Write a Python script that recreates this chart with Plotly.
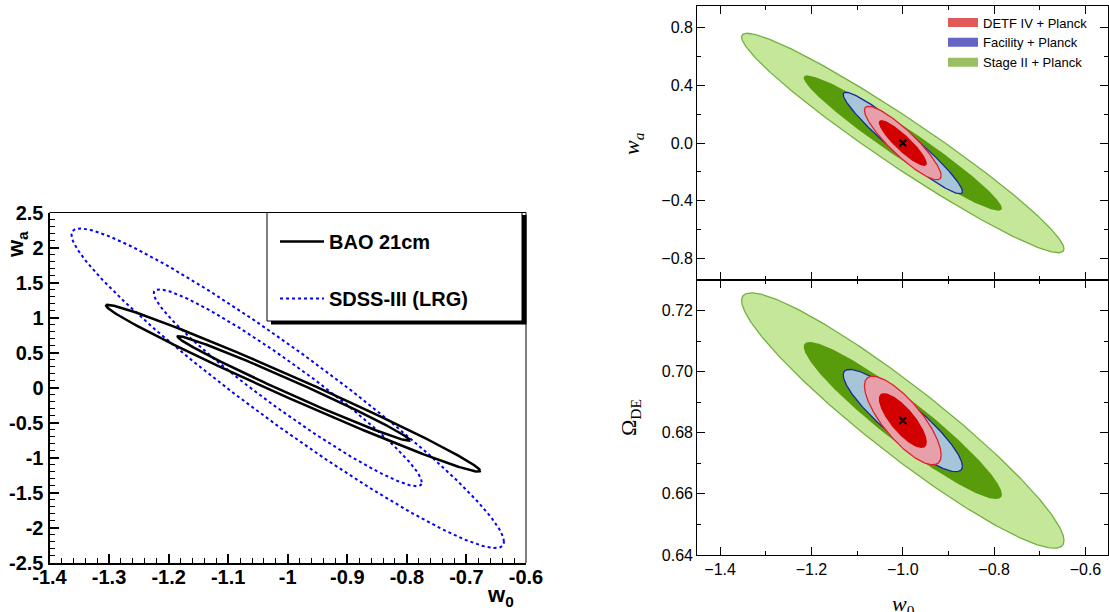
import numpy as np
import plotly.graph_objects as go

W, H = 1109, 612

# ---------------- Left panel: BAO 21cm vs SDSS-III (LRG) -----------------
# contour ellipses: centre (w0, wa), half-extent in w0, half-extent in wa, correlation
bao_cw0 = [-0.991, -0.990]
bao_cwa = [-0.007, -0.010]
bao_hw0 = [0.314, 0.195]
bao_hwa = [1.19, 0.747]
bao_rho = [-0.99, -0.99]

sdss_cw0 = [-1.0, -1.0]
sdss_cwa = [-0.007, 0.0]
sdss_hw0 = [0.363, 0.225]
sdss_hwa = [2.28, 1.405]
sdss_rho = [-0.96, -0.96]

left_names = ["BAO 21cm", "SDSS-III (LRG)"]
left_xticks = [-1.4, -1.3, -1.2, -1.1, -1.0, -0.9, -0.8, -0.7, -0.6]
left_xticklabels = ["-1.4", "-1.3", "-1.2", "-1.1", "-1", "-0.9", "-0.8", "-0.7", "-0.6"]
left_yticks = [2.5, 2, 1.5, 1, 0.5, 0, -0.5, -1, -1.5, -2, -2.5]
left_yticklabels = ["2.5", "2", "1.5", "1", "0.5", "0", "-0.5", "-1", "-1.5", "-2", "-2.5"]

# ---------------- Right panels: forecasts + Planck -----------------------
right_names = ["DETF IV + Planck", "Facility + Planck", "Stage II + Planck"]
fid_w0 = -1.0
fid_wa = 0.0
fid_ode = 0.684
# 2-sigma half extents
hw0_2s = [0.084, 0.1305, 0.353]
hwa_2s = [0.255, 0.352, 0.761]
hode_2s = [0.0145, 0.01675, 0.0418]
# 1-sigma half extents
hw0_1s = [0.0526, 0.0806, 0.217]
hwa_1s = [0.159, 0.217, 0.469]
hode_1s = [0.0090, 0.01034, 0.0257]
# correlations
rho_w0wa = [-0.89, -0.955, -0.965]
rho_w0ode = [-0.78, -0.89, -0.94]

# colours: [DETF, Facility, StageII]
fill_2s = ["#e7a0a9", "#a6c5d9", "#c5e79a"]
fill_1s = ["#d20000", "#0c18a8", "#589c0c"]
edge_2s = ["#e0202e", "#1a2a98", "#74b040"]
legend_cols = ["#e05a5a", "#6565c5", "#98c060"]

t = np.linspace(0, 2 * np.pi, 400)


def ellipse(cx, cy, a, b, rho):
    x = cx + a * np.cos(t)
    y = cy + b * (rho * np.cos(t) + np.sqrt(1 - rho ** 2) * np.sin(t))
    return x, y


def px(x):
    return x / W


def py(y):
    return 1 - y / H


fig = go.Figure()

# ---- left panel traces
for i in range(2):
    x, y = ellipse(sdss_cw0[i], sdss_cwa[i], sdss_hw0[i], sdss_hwa[i], sdss_rho[i])
    fig.add_trace(go.Scatter(x=x, y=y, mode="lines", xaxis="x", yaxis="y",
                             line=dict(color="#0000ff", width=2, dash="dot"),
                             name=left_names[1], legendgroup="b", legend="legend",
                             showlegend=(i == 0), legendrank=2, hoverinfo="skip"))
for i in range(2):
    x, y = ellipse(bao_cw0[i], bao_cwa[i], bao_hw0[i], bao_hwa[i], bao_rho[i])
    fig.add_trace(go.Scatter(x=x, y=y, mode="lines", xaxis="x", yaxis="y",
                             line=dict(color="black", width=2.5),
                             name=left_names[0], legendgroup="a", legend="legend",
                             showlegend=(i == 0), legendrank=1, hoverinfo="skip"))

# ---- right panels traces
panels = [("x2", "y2", fid_wa, hwa_2s, hwa_1s, rho_w0wa),
          ("x3", "y3", fid_ode, hode_2s, hode_1s, rho_w0ode)]
for xa, ya, cy, hy2, hy1, rho in panels:
    for k in [2, 1, 0]:  # Stage II, Facility, DETF
        x, y = ellipse(fid_w0, cy, hw0_2s[k], hy2[k], rho[k])
        fig.add_trace(go.Scatter(x=x, y=y, mode="lines", fill="toself", xaxis=xa, yaxis=ya,
                                 fillcolor=fill_2s[k], line=dict(color=edge_2s[k], width=1.3),
                                 showlegend=False, hoverinfo="skip"))
        x, y = ellipse(fid_w0, cy, hw0_1s[k], hy1[k], rho[k])
        fig.add_trace(go.Scatter(x=x, y=y, mode="lines", fill="toself", xaxis=xa, yaxis=ya,
                                 fillcolor=fill_1s[k], line=dict(width=0),
                                 showlegend=False, hoverinfo="skip"))
    fig.add_trace(go.Scatter(x=[fid_w0], y=[cy], mode="markers", xaxis=xa, yaxis=ya,
                             marker=dict(symbol="x-thin", size=7, color="black",
                                         line=dict(color="black", width=2)),
                             showlegend=False, hoverinfo="skip"))

# legend entries for the right panels
for k in range(3):
    fig.add_trace(go.Scatter(x=[None], y=[None], mode="lines", xaxis="x2", yaxis="y2",
                             line=dict(color=legend_cols[k], width=9),
                             name=right_names[k], legend="legend2", showlegend=True))

# ---- axes
L_FONT = dict(family="Liberation Sans", size=20, color="black", weight="bold")
R_FONT = dict(family="Liberation Sans", size=16, color="black")

left_x0, left_x1, left_y0, left_y1 = 49.5, 526, 212.5, 563
r_x0, r_x1, r_top, r_mid, r_bot = 697.3, 1108.3, 6, 280, 555

common_left = dict(showgrid=False, zeroline=False, showline=True, linecolor="black",
                   linewidth=2, ticks="inside", ticklen=9, tickwidth=1.5, tickcolor="black",
                   tickfont=L_FONT, tickmode="array")
fig.update_layout(
    xaxis=dict(domain=[px(left_x0), px(left_x1)], range=[-1.4, -0.6], anchor="y",
               tickvals=left_xticks, ticktext=left_xticklabels, ticklabelstandoff=-5,
               minor=dict(tick0=-1.4, dtick=0.02, ticks="inside", ticklen=5,
                          tickcolor="black", tickwidth=1.2), **common_left),
    yaxis=dict(domain=[py(left_y1), py(left_y0)], range=[-2.5, 2.5], anchor="x",
               tickvals=left_yticks, ticktext=left_yticklabels,
               minor=dict(tick0=-2.5, dtick=0.1, ticks="inside", ticklen=5,
                          tickcolor="black", tickwidth=1.2), **common_left),
)

common_right = dict(showgrid=False, zeroline=False, showline=True, linecolor="black",
                    linewidth=1.3, mirror="allticks", ticks="inside", ticklen=8,
                    tickwidth=1.3, tickcolor="black", tickfont=R_FONT)
fig.update_layout(
    xaxis2=dict(domain=[px(r_x0), px(r_x1)], range=[-1.45, -0.55], anchor="y2",
                tick0=-1.4, dtick=0.2, tickformat=".1f", showticklabels=False,
                minor=dict(tick0=-1.4, dtick=0.1, ticks="inside", ticklen=4,
                           tickcolor="black", tickwidth=1.2), **common_right),
    yaxis2=dict(domain=[py(r_mid), py(r_top)], range=[-0.95, 0.95], anchor="x2",
                tick0=-0.8, dtick=0.4, tickformat=".1f",
                minor=dict(tick0=-0.8, dtick=0.2, ticks="inside", ticklen=4,
                           tickcolor="black", tickwidth=1.2), **common_right),
    xaxis3=dict(domain=[px(r_x0), px(r_x1)], range=[-1.45, -0.55], anchor="y3",
                tick0=-1.4, dtick=0.2, tickformat=".1f",
                minor=dict(tick0=-1.4, dtick=0.1, ticks="inside", ticklen=4,
                           tickcolor="black", tickwidth=1.2), **common_right),
    yaxis3=dict(domain=[py(r_bot), py(r_mid)], range=[0.64, 0.73], anchor="x3",
                tick0=0.64, dtick=0.02, tickformat=".2f",
                minor=dict(tick0=0.64, dtick=0.01, ticks="inside", ticklen=4,
                           tickcolor="black", tickwidth=1.2), **common_right),
)

# ---- frame (top/right thin lines of left panel) and legend box with shadow
shapes = [
    dict(type="line", xref="x domain", yref="y domain", x0=0, x1=1, y0=1, y1=1,
         line=dict(color="black", width=1)),
    dict(type="line", xref="x domain", yref="y domain", x0=1, x1=1, y0=0, y1=1,
         line=dict(color="black", width=1)),
    dict(type="rect", xref="paper", yref="paper", x0=px(271), x1=px(526.5),
         y0=py(324.5), y1=py(215), fillcolor="black", line=dict(width=0), layer="above"),
    dict(type="rect", xref="paper", yref="paper", x0=px(267), x1=px(522),
         y0=py(321), y1=py(212.5), fillcolor="white",
         line=dict(color="black", width=1), layer="above"),
]

BOLD_T = dict(family="Liberation Sans", size=22, color="black", weight="bold")
SERIF_T = dict(family="Liberation Serif", size=22, color="black")
annotations = [
    dict(text="w<sub>a</sub>", x=px(17), y=py(245), textangle=-90, font=BOLD_T),
    dict(text="w<sub>0</sub>", x=px(500), y=py(596), font=BOLD_T),
    dict(text="<i>w</i><sub><i>a</i></sub>", x=px(633), y=py(144), textangle=-90, font=SERIF_T),
    dict(text="Ω<sub>DE</sub>", x=px(630), y=py(417), textangle=-90, font=SERIF_T),
    dict(text="<i>w</i><sub>0</sub>", x=px(903), y=py(605), font=SERIF_T),
]
for a in annotations:
    a.update(xref="paper", yref="paper", xanchor="center", yanchor="middle", showarrow=False)

fig.update_layout(
    width=W, height=H, autosize=False,
    margin=dict(l=0, r=0, t=0, b=0, autoexpand=False),
    paper_bgcolor="white", plot_bgcolor="white",
    shapes=shapes, annotations=annotations,
    legend=dict(x=px(275), y=py(222), xanchor="left", yanchor="top",
                bgcolor="rgba(0,0,0,0)", borderwidth=0, font=L_FONT,
                itemwidth=44, tracegroupgap=28, traceorder="grouped"),
    legend2=dict(x=px(943), y=py(7.5), xanchor="left", yanchor="top",
                 bgcolor="rgba(0,0,0,0)", borderwidth=0,
                 font=dict(family="Liberation Sans", size=13, color="black"),
                 itemwidth=30, tracegroupgap=0),
)

fig.write_html("out.html", config={"responsive": False, "displayModeBar": False},
               post_script="document.body.style.margin='0px';document.body.style.overflow='hidden';")
